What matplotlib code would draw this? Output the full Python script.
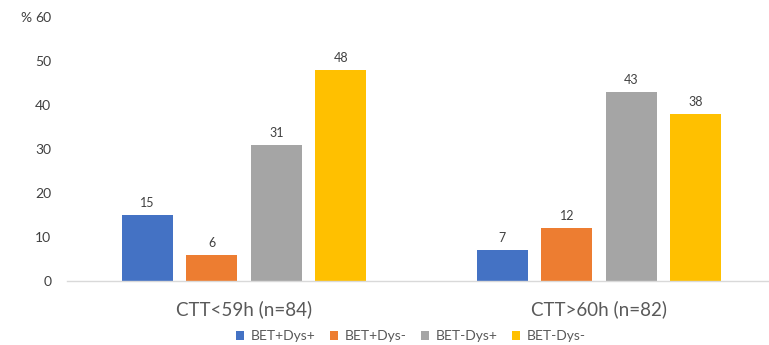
import matplotlib
matplotlib.use("Agg")
import matplotlib.pyplot as plt
import numpy as np

groups = ["CTT<59h (n=84)", "CTT>60h (n=82)"]
series = ["BET+Dys+", "BET+Dys-", "BET-Dys+", "BET-Dys-"]
values = [
    [15, 7],
    [6, 12],
    [31, 43],
    [48, 38],
]
colors = ["#4472C4", "#ED7D31", "#A5A5A5", "#FFC000"]

plt.rcParams["font.family"] = ["Lato", "DejaVu Sans"]
txt = "#595959"

W, H = 769, 345
fig = plt.figure(figsize=(W / 100, H / 100), dpi=100)
# axes in pixel coordinates: x 66.5..776.5, y 17..281 (from top)
ax = fig.add_axes([66.5 / W, (H - 281) / H, 710 / W, 264 / H])

x = np.arange(len(groups))
step = 0.1817
width = 0.1437
for i, (name, vals) in enumerate(zip(series, values)):
    pos = x + (i - 1.5) * step
    bars = ax.bar(pos, vals, width, color=colors[i], label=name, zorder=2)
    for b, v in zip(bars, vals):
        ax.text(b.get_x() + b.get_width() / 2, v + 1.3, str(v),
                ha="center", va="bottom", fontsize=9, color="#404040")

ax.set_xlim(-0.5, 1.5)
ax.set_ylim(0, 60)
ax.set_yticks(range(0, 61, 10))
ax.set_xticks(x)
ax.set_xticklabels(groups, fontsize=13.5, color=txt)
ax.tick_params(axis="x", length=0, pad=14)
ax.tick_params(axis="y", length=0, pad=11, labelsize=10, labelcolor="#404040")
for s in ["top", "right", "left"]:
    ax.spines[s].set_visible(False)
ax.spines["bottom"].set_color("#D9D9D9")
ax.spines["bottom"].set_linewidth(1)

fig.text(20 / W, 1 - 18 / H, "%", fontsize=10, color="#404040",
         ha="left", va="center")

leg = fig.legend(loc="center", bbox_to_anchor=(411 / W, 1 - 336 / H), ncol=4,
                 frameon=False, fontsize=10, handlelength=0.6, handleheight=0.6,
                 columnspacing=1.0, handletextpad=0.5)
for t in leg.get_texts():
    t.set_color(txt)

fig.savefig("out.png", dpi=100)
